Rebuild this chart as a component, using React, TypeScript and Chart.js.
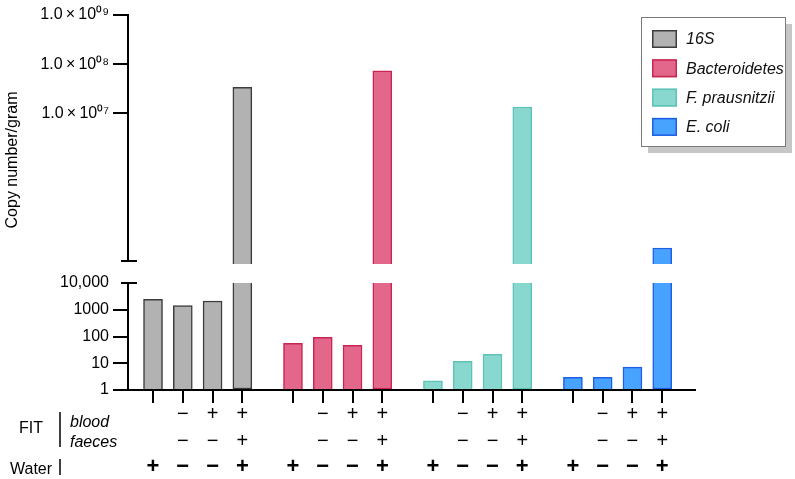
import React, { useEffect, useRef } from 'react';
import { Chart, registerables } from 'chart.js';

Chart.register(...registerables);

// ---------- data ----------
const seriesNames = ['16S', 'Bacteroidetes', 'F. prausnitzii', 'E. coli'];
const values16S = [2450, 1420, 2130, 3.4e7];
const valuesBacteroidetes = [56, 93, 47, 7.3e7];
const valuesFprausnitzii = [2.2, 11.8, 21.6, 1.35e7];
const valuesEcoli = [3.0, 3.0, 7.2, 1.84e4];
const seriesValues = [values16S, valuesBacteroidetes, valuesFprausnitzii, valuesEcoli];

const bloodRow = ['', '\u2212', '+', '+'];
const faecesRow = ['', '\u2212', '\u2212', '+'];
const waterRow = ['+', '\u2212', '\u2212', '+'];

const yTickValues = [1, 10, 100, 1000, 10000, 1e7, 1e8, 1e9];
const yTickLabels = ['1', '10', '100', '1000', '10,000', '1.0\u2009\u00d7\u200910\u2070\u2077', '1.0\u2009\u00d7\u200910\u2070\u2078', '1.0\u2009\u00d7\u200910\u2070\u2079'];

// ---------- style ----------
const fillColors = ['#b2b2b2', '#e2678a', '#88d8cf', '#48a2ff'];
const borderColors = ['#3c3c3c', '#c92552', '#5ec2b6', '#1f5ee6'];
const FONT = '"Liberation Sans", Arial, Helvetica, sans-serif';

// broken axis geometry (in lower-decade units)
const LOW_MAX = 4; // log10(10,000)
const GAP_U = 22 / 26.75;
const UP_SCALE = 49.2 / 26.75;
const BREAK_TOP = LOW_MAX + GAP_U;
const UPPER_START = BREAK_TOP - 3 / 26.75;
const toU = (v: number) => {
  const l = Math.log10(v);
  return l <= LOW_MAX ? l : LOW_MAX + GAP_U + (l - LOW_MAX) * UP_SCALE;
};
const GROUP_STEP = 4.7;
const barX = (g: number, i: number) => g * GROUP_STEP + i;

const overlayPlugin = {
  id: 'overlay',
  afterDraw(chart: any) {
    const ctx = chart.ctx as CanvasRenderingContext2D;
    const ya = chart.scales.y;
    const xa = chart.scales.x;
    const left = chart.chartArea.left;
    ctx.save();
    ctx.strokeStyle = '#000';
    ctx.fillStyle = '#000';
    // broken y axis line
    const yTop = ya.getPixelForValue(toU(1e9));
    const yBreakUp = ya.getPixelForValue(BREAK_TOP);
    const yBreakLow = ya.getPixelForValue(LOW_MAX);
    const yBottom = ya.getPixelForValue(0);
    ctx.lineWidth = 2;
    ctx.beginPath();
    ctx.moveTo(left, yTop - 1);
    ctx.lineTo(left, yBreakUp);
    ctx.moveTo(left, yBreakLow);
    ctx.lineTo(left, yBottom + 1);
    // caps
    ctx.moveTo(left - 7, yBreakUp);
    ctx.lineTo(left + 9, yBreakUp);
    ctx.moveTo(left - 7, yBreakLow);
    ctx.lineTo(left + 9, yBreakLow);
    ctx.stroke();

    // y title
    ctx.save();
    ctx.translate(13, 160);
    ctx.rotate(-Math.PI / 2);
    ctx.font = `16px ${FONT}`;
    ctx.textAlign = 'center';
    ctx.textBaseline = 'middle';
    ctx.fillText('Copy number/gram', 0, 0);
    ctx.restore();

    // condition rows
    ctx.textAlign = 'center';
    ctx.textBaseline = 'middle';
    for (let g = 0; g < 4; g++) {
      for (let i = 0; i < 4; i++) {
        const px = xa.getPixelForValue(barX(g, i));
        ctx.font = `20px ${FONT}`;
        if (bloodRow[i]) ctx.fillText(bloodRow[i], px, 414);
        if (faecesRow[i]) ctx.fillText(faecesRow[i], px, 441);
        ctx.font = `bold 22px ${FONT}`;
        if (waterRow[i]) ctx.fillText(waterRow[i], px, 467);
      }
    }
    ctx.textAlign = 'left';
    ctx.textBaseline = 'alphabetic';
    ctx.font = `16px ${FONT}`;
    ctx.fillText('FIT', 19, 433);
    ctx.fillText('Water', 10, 474);
    ctx.font = `italic 16px ${FONT}`;
    ctx.fillText('blood', 70, 427);
    ctx.fillText('faeces', 70, 447);
    ctx.lineWidth = 1.5;
    ctx.beginPath();
    ctx.moveTo(60, 412);
    ctx.lineTo(60, 447);
    ctx.moveTo(60, 459);
    ctx.lineTo(60, 475);
    ctx.stroke();

    // legend
    const bx = 641, by = 17, bw = 144, bh = 129;
    ctx.fillStyle = '#c6c6c6';
    ctx.fillRect(bx + 7, by + 7, bw, bh);
    ctx.fillStyle = '#fff';
    ctx.fillRect(bx, by, bw, bh);
    ctx.strokeStyle = '#7a7a7a';
    ctx.lineWidth = 1;
    ctx.strokeRect(bx + 0.5, by + 0.5, bw, bh);
    chart.data.datasets.forEach((ds: any, k: number) => {
      const cy = 39 + k * 29.3;
      ctx.fillStyle = ds.backgroundColor;
      ctx.fillRect(652, cy - 9, 25, 18);
      ctx.strokeStyle = ds.borderColor;
      ctx.lineWidth = 1.5;
      ctx.strokeRect(652.75, cy - 8.25, 23.5, 16.5);
      ctx.fillStyle = '#111';
      ctx.font = `italic 16px ${FONT}`;
      ctx.textBaseline = 'middle';
      ctx.textAlign = 'left';
      ctx.fillText(ds.label, 686, cy + 1);
    });
    ctx.restore();
  },
};

export default function App() {
  const ref = useRef<HTMLCanvasElement>(null);
  useEffect(() => {
    const datasets = seriesValues.map((vals, s) => ({
      label: seriesNames[s],
      data: vals.flatMap((v, i) => {
        const x = barX(s, i);
        const pts: any[] = [{ x, y: [0, Math.min(Math.log10(v), LOW_MAX)], broken: v > 1e4, part: 'low' }];
        if (v > 1e4) pts.push({ x, y: [UPPER_START, toU(v)], broken: true, part: 'up' });
        return pts;
      }),
      backgroundColor: fillColors[s],
      borderColor: borderColors[s],
      borderWidth: 1.5,
      barThickness: 19,
      grouped: false,
      borderSkipped: (c: any) => (c.raw && c.raw.part === 'low' && c.raw.broken ? 'top' : 'bottom'),
    }));
    const xTicks = [0, 1, 2, 3].flatMap((g) => [0, 1, 2, 3].map((i) => barX(g, i)));
    const yTicks = [...yTickValues.map(toU), BREAK_TOP].sort((a, b) => a - b);
    const chart = new Chart(ref.current as HTMLCanvasElement, {
      type: 'bar',
      data: { datasets } as any,
      options: {
        animation: false,
        responsive: true,
        maintainAspectRatio: false,
        layout: { padding: { top: 15, right: 100, left: 0, bottom: 0 } },
        plugins: { legend: { display: false }, tooltip: { enabled: false } },
        scales: {
          x: {
            type: 'linear',
            offset: false,
            min: -0.84,
            max: 18.2,
            afterBuildTicks: (s: any) => {
              s.ticks = xTicks.map((v) => ({ value: v }));
            },
            afterFit: (s: any) => {
              s.height = 89;
              s.paddingLeft = 0;
              s.paddingRight = 0;
            },
            ticks: { display: false, autoSkip: false },
            grid: { offset: false, drawOnChartArea: false, drawTicks: true, tickLength: 13, lineWidth: 2, color: '#000' },
            border: { display: true, color: '#000', width: 2 },
          },
          y: {
            type: 'linear',
            min: 0,
            max: toU(1e9),
            afterBuildTicks: (s: any) => {
              s.ticks = yTicks.map((v) => ({ value: v }));
            },
            afterFit: (s: any) => {
              s.width = 128;
              s.paddingTop = 0;
              s.paddingBottom = 0;
            },
            ticks: {
              autoSkip: false,
              padding: 4,
              color: '#000',
              font: { family: FONT, size: 16 },
              callback: (value: any) => {
                const idx = yTickValues.findIndex((t) => Math.abs(toU(t) - value) < 1e-6);
                return idx >= 0 ? yTickLabels[idx] : '';
              },
            },
            grid: {
              drawOnChartArea: false,
              drawTicks: true,
              tickLength: 15,
              lineWidth: 2,
              color: (c: any) =>
                c.tick && (Math.abs(c.tick.value - BREAK_TOP) < 1e-6 || Math.abs(c.tick.value - LOW_MAX) < 1e-6)
                  ? 'rgba(0,0,0,0)'
                  : '#000',
            },
            border: { display: false },
          },
        },
      },
      plugins: [overlayPlugin],
    } as any);
    return () => chart.destroy();
  }, []);
  return (
    <div style={{ position: 'absolute', left: 0, top: 0, width: 795, height: 479 }}>
      <canvas ref={ref} />
    </div>
  );
}
